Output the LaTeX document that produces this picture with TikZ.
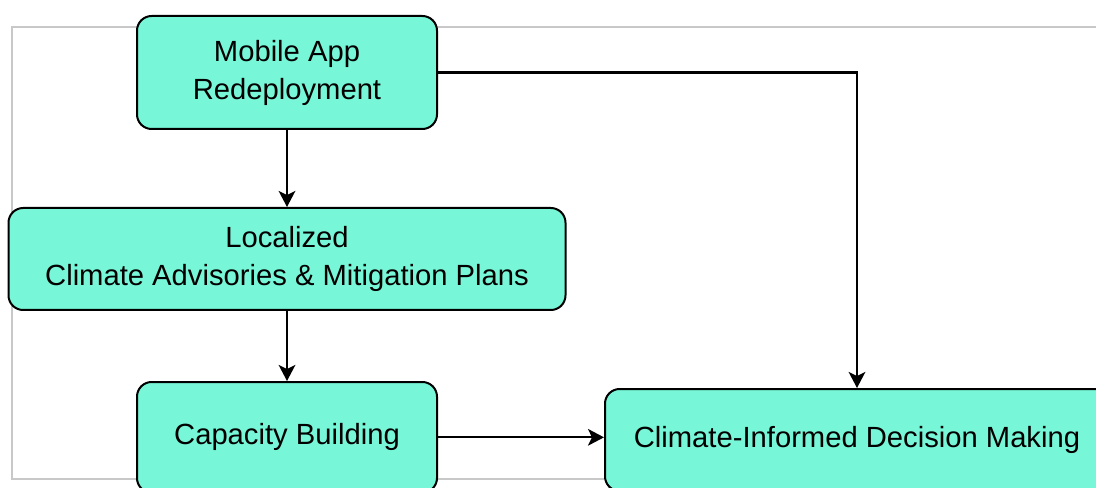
\documentclass[tikz,border=0pt]{standalone}
\usepackage{fontspec}
\setmainfont{Liberation Sans}
\usetikzlibrary{arrows.meta,positioning}
\definecolor{ciFill}{HTML}{77F7D8}
\definecolor{ciFrame}{HTML}{C8C8C8}
\tikzset{
  >={Stealth[length=12pt,width=12.5pt,inset=3pt]},
  box/.style={rectangle, rounded corners=11pt, draw=black, line width=1.5pt,
              fill=ciFill, align=center, inner sep=0pt,
              font=\fontsize{21.9}{28.5}\selectfont},
  flow/.style={->, draw=black, line width=1.6pt},
}

\begin{document}
\begin{tikzpicture}[x=0.75pt, y=-0.75pt, node distance=57.75pt and 124.5pt]
  \useasboundingbox (0,0) rectangle (1096,488);
  \clip (0,0) rectangle (1096,488);
  \fill[white] (0,0) rectangle (1096,488);
  \draw[ciFrame, line width=0.8pt] (12,27) rectangle (1110,479);

  \node[box, minimum width=225pt, minimum height=84.75pt] (app) at (287,72.5) {Mobile App\\Redeployment};
  \node[box, minimum width=417.75pt, minimum height=76.5pt, below=of app] (advice) {Localized\\Climate Advisories \& Mitigation Plans};
  \node[box, minimum width=225pt, minimum height=83pt, below=52.5pt of advice] (capacity) {Capacity Building};
  \node[box, minimum width=378pt, minimum height=76.5pt, right=of capacity, yshift=-2pt] (decision) {Climate-Informed Decision Making};

  \draw[flow] (app) -- (advice);
  \draw[flow] (advice) -- (capacity);
  \draw[flow] (capacity.east) -- (capacity.east -| decision.west);
  \draw[flow] (app.east) -| (decision.north);
\end{tikzpicture}
\end{document}
